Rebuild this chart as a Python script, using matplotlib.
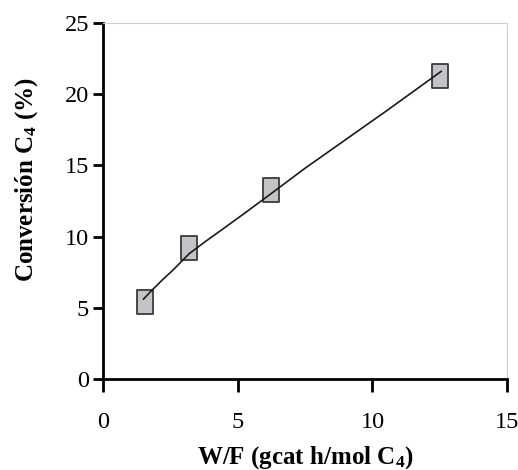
import matplotlib
matplotlib.use("Agg")
import matplotlib.pyplot as plt
from matplotlib.path import Path

plt.rcParams['font.family'] = ['Liberation Serif', 'DejaVu Serif']
plt.rcParams['mathtext.fontset'] = 'custom'
plt.rcParams['mathtext.rm'] = 'Liberation Serif'
plt.rcParams['mathtext.bf'] = 'Liberation Serif:bold'
plt.rcParams['mathtext.it'] = 'Liberation Serif:italic'

# Experimental points
wf = [1.56, 3.18, 6.23, 12.49]
conv = [5.43, 9.18, 13.3, 21.25]

# Model curve
fit_x = [1.5, 1.8, 2.2, 2.6, 3.2, 3.8, 4.5, 5.3, 6.3, 7.5, 9.0, 10.5, 12.55]
fit_y = [5.6, 6.2, 6.95, 7.65, 8.8, 9.65, 10.6, 11.7, 13.1, 14.8, 16.8, 18.8, 21.6]

xticks = [0, 5, 10, 15]
yticks = [0, 5, 10, 15, 20, 25]

fig = plt.figure(figsize=(5.18, 4.70), dpi=100)
ax = fig.add_axes([0.199, 0.194, 0.780, 0.757])

rect = Path([(-0.33, -0.5), (0.33, -0.5), (0.33, 0.5), (-0.33, 0.5), (-0.33, -0.5)],
            [Path.MOVETO, Path.LINETO, Path.LINETO, Path.LINETO, Path.CLOSEPOLY])

ax.plot(wf, conv, linestyle='none', marker=rect, markersize=17.5,
        markerfacecolor='#c4c4c8', markeredgecolor='#3a3a3a', markeredgewidth=1.3, zorder=2)
ax.plot(fit_x, fit_y, color='#1a1a1a', linewidth=1.2, zorder=3)

ax.set_xlim(0, 15)
ax.set_ylim(0, 25)
ax.set_xticks(xticks)
ax.set_yticks(yticks)

for s in ['top', 'right']:
    ax.spines[s].set_color('#cfcfcf')
    ax.spines[s].set_linewidth(0.8)
for s in ['left', 'bottom']:
    ax.spines[s].set_color('black')
    ax.spines[s].set_linewidth(2.0)

ax.tick_params(axis='both', direction='out', width=2.0, labelsize=17.5, colors='black')
ax.tick_params(axis='x', length=9, pad=15)
ax.tick_params(axis='y', length=7, pad=3)

ax.set_xlabel('W/F (gcat h/mol C$_{\\mathbf{4}}$)', fontsize=18, fontweight='bold', labelpad=8)
ax.set_ylabel('Conversión C$_{\\mathbf{4}}$ (%)', fontsize=18, fontweight='bold', labelpad=12)
ax.yaxis.set_label_coords(-0.155, 0.56)

fig.savefig('out.png', dpi=100)
